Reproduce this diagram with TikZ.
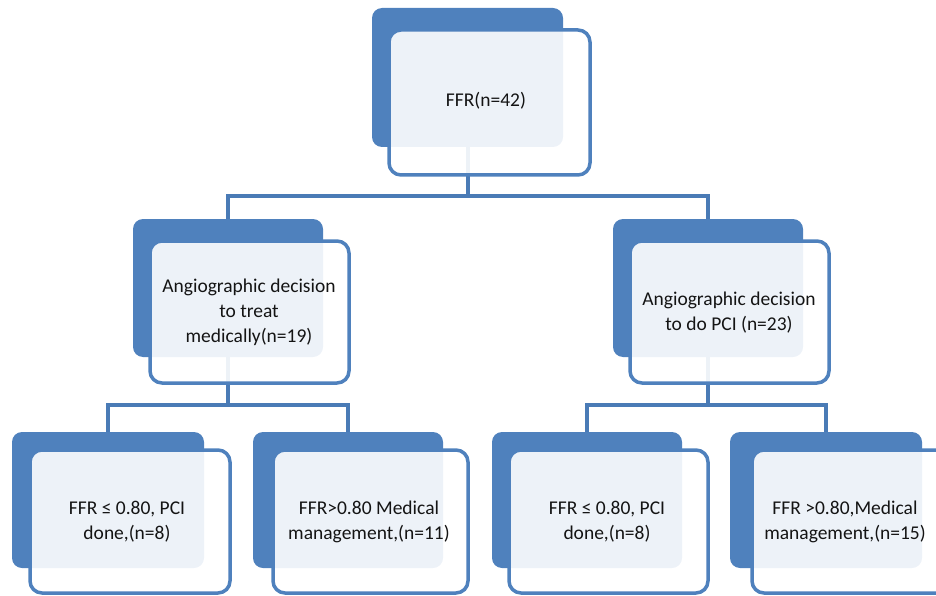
\documentclass[tikz,border=0pt]{standalone}
\usepackage{fontspec}
\setmainfont{Carlito}
\begin{document}
\begin{tikzpicture}[x=1pt,y=-1pt,
  backbox/.style={fill=blueA, draw=none, rounded corners=10pt, outer sep=0pt, inner sep=0pt},
  frontbox/.style={fill=white, fill opacity=0.9, draw=blueA, draw opacity=1, line width=3.5pt, rounded corners=12pt, outer sep=0pt, inner sep=0pt},
  lbl/.style={align=center, font=\fontsize{19.5pt}{25pt}\selectfont, text=black!92, inner sep=0pt},
  conn/.style={draw=blueC, line width=4pt}]
\definecolor{blueA}{HTML}{4F81BD}
\definecolor{blueC}{HTML}{4A7BB6}
\useasboundingbox (0,0) rectangle (936,596);
% back boxes
\node[backbox, minimum width=191pt, minimum height=139pt] (b0) at (467.5,77.5) {};
\node[backbox, minimum width=190pt, minimum height=138pt] (b1) at (228,288) {};
\node[backbox, minimum width=190pt, minimum height=138pt] (b2) at (708,288) {};
\node[backbox, minimum width=192pt, minimum height=136pt] (b3) at (108,500) {};
\node[backbox, minimum width=190pt, minimum height=136pt] (b4) at (348,500) {};
\node[backbox, minimum width=190pt, minimum height=136pt] (b5) at (587,500) {};
\node[backbox, minimum width=192pt, minimum height=136pt] (b6) at (826,500) {};
% connectors
\draw[conn] (b0.south) -- (b0.south |- 0,196) -| (b1.north);
\draw[conn] (b0.south |- 0,196) -| (b2.north);
\draw[conn] (b1.south) -- (b1.south |- 0,405) -| (b3.north);
\draw[conn] (b1.south |- 0,405) -| (b4.north);
\draw[conn] (b2.south) -- (b2.south |- 0,405) -| (b5.north);
\draw[conn] (b2.south |- 0,405) -| (b6.north);
% front boxes
\node[frontbox, minimum width=201pt, minimum height=145pt] (f0) at (489.5,102.5) {};
\node[frontbox, minimum width=199pt, minimum height=142pt] (f1) at (249.5,312) {};
\node[frontbox, minimum width=199pt, minimum height=142pt] (f2) at (729.5,312) {};
\node[frontbox, minimum width=200pt, minimum height=143pt] (f3) at (130,521.5) {};
\node[frontbox, minimum width=195pt, minimum height=143pt] (f4) at (370.5,521.5) {};
\node[frontbox, minimum width=199pt, minimum height=143pt] (f5) at (608.5,521.5) {};
\node[frontbox, minimum width=200pt, minimum height=143pt] (f6) at (852,521.5) {};
% labels
\node[lbl] (t0) at (486,101) {FFR(n=42)};
\node[lbl] (t1) at (249,312) {Angiographic decision\\to treat\\medically(n=19)};
\node[lbl] (t2) at (729,313) {Angiographic decision\\to do PCI (n=23)};
\node[lbl] (t3) at (127,522) {FFR ≤ 0.80, PCI\\done,(n=8)};
\node[lbl] (t4) at (369,522) {FFR>0.80 Medical\\management,(n=11)};
\node[lbl] (t5) at (607,522) {FFR ≤ 0.80, PCI\\done,(n=8)};
\node[lbl] (t6) at (845,522) {FFR >0.80,Medical\\management,(n=15)};
\end{tikzpicture}
\end{document}
